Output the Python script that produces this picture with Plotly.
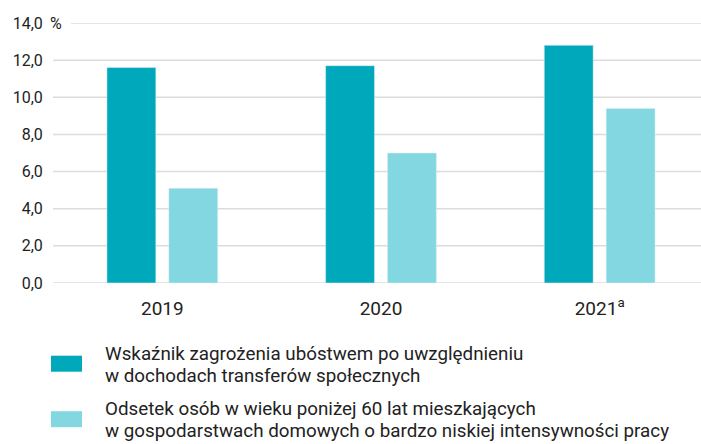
import plotly.graph_objects as go

years = ["2019", "2020", "2021"]
year_labels = ["2019", "2020", "2021<sup>a</sup>"]
poverty_rate = [11.6, 11.7, 12.8]
low_work_intensity = [5.1, 7.0, 9.4]
y_ticks = [0, 2, 4, 6, 8, 10, 12, 14]
y_tick_labels = ["0,0", "2,0", "4,0", "6,0", "8,0", "10,0", "12,0", "14,0"]
y_unit = "%"
legend_lines = [
    ["Wskaźnik zagrożenia ubóstwem po uwzględnieniu", "w dochodach transferów społecznych"],
    ["Odsetek osób w wieku poniżej 60 lat mieszkających",
     "w gospodarstwach domowych o bardzo niskiej intensywności pracy"],
]
colors = ["#00A8BB", "#82D7E1"]

W, H = 701, 444
L, R, T, B = 53, 0, 23.3, 160.7
pw, ph = W - L - R, H - T - B

def px_x(p):
    return (p - L) / pw

def px_y(p):
    return (H - B - p) / ph

fig = go.Figure()
fig.add_trace(go.Bar(x=years, y=poverty_rate, marker_color=colors[0],
                     name=" ".join(legend_lines[0]), showlegend=False))
fig.add_trace(go.Bar(x=years, y=low_work_intensity, marker_color=colors[1],
                     name=" ".join(legend_lines[1]), showlegend=False))

shapes = []
for v in y_ticks:
    x0 = px_x(71) if v == y_ticks[-1] else 0
    shapes.append(dict(type="line", xref="paper", yref="y", x0=x0, x1=1, y0=v, y1=v,
                       line=dict(color="#DCDCDC", width=1.5), layer="below"))

annotations = [dict(xref="paper", yref="y", x=px_x(47.5), y=y_ticks[-1], text=y_unit,
                    showarrow=False, xanchor="left", yanchor="middle",
                    font=dict(size=16, color="#222222"))]

squares = [(356, 372), (411.5, 427.5)]
baselines = [(361, 383), (416, 438)]
for i, lines in enumerate(legend_lines):
    y0, y1 = squares[i]
    shapes.append(dict(type="rect", xref="paper", yref="paper",
                       x0=px_x(51), x1=px_x(82), y0=px_y(y1), y1=px_y(y0),
                       fillcolor=colors[i], line=dict(width=0)))
    for j, line in enumerate(lines):
        annotations.append(dict(xref="paper", yref="paper", x=px_x(103),
                                y=px_y(baselines[i][j] - 6.5), text=line,
                                showarrow=False, xanchor="left", yanchor="middle", align="left",
                                font=dict(size=18.8, color="#222222")))

fig.update_layout(
    width=W, height=H,
    margin=dict(l=L, r=R, t=T, b=B, pad=0, autoexpand=False),
    plot_bgcolor="white", paper_bgcolor="white",
    font=dict(family="Roboto", size=16, color="#222222"),
    barmode="group", bargap=0.434, bargroupgap=0.21,
    shapes=shapes, annotations=annotations,
    xaxis=dict(tickmode="array", tickvals=years, ticktext=year_labels, showgrid=False,
               showline=False, zeroline=False, range=[-0.5, 2.5 - 8 / 219], automargin=False,
               ticks="outside", ticklen=8, tickcolor="rgba(0,0,0,0)", tickfont=dict(size=19)),
    yaxis=dict(range=[0, 14], tickmode="array", tickvals=y_ticks, ticktext=y_tick_labels,
               showgrid=False, zeroline=False, showline=False, automargin=False,
               ticks="outside", ticklen=6, tickcolor="rgba(0,0,0,0)", tickfont=dict(size=16)),
)

fig.write_html("out.html", config={"displayModeBar": False},
               post_script="document.body.style.margin='0';")
